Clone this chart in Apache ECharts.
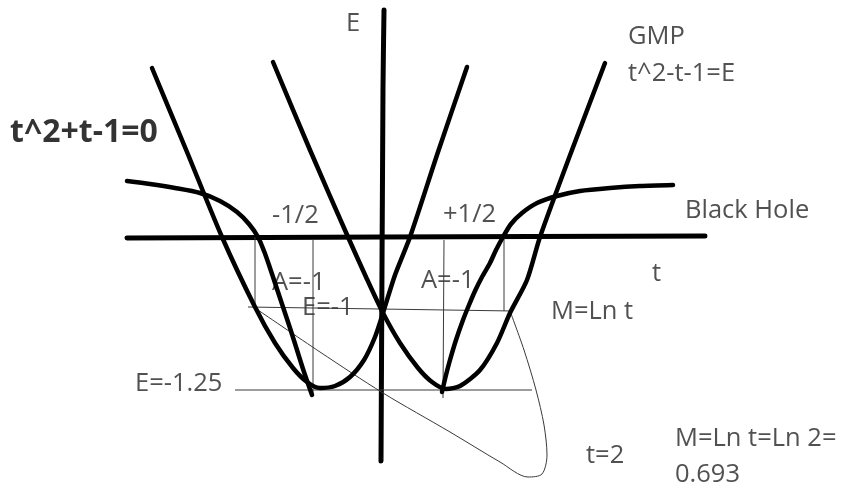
<!DOCTYPE html>
<html>
<head>
<meta charset="utf-8">
<script src="https://cdn.jsdelivr.net/npm/echarts@6/dist/echarts.min.js"></script>
<style>
  html, body { margin: 0; padding: 0; background: #fff; }
  #chart { width: 847px; height: 489px; }
</style>
</head>
<body>
<div id="chart"></div>
<script>
// sketch coordinates (x to the right, y downwards)
const axisH = [[127, 238], [383, 237], [705, 236]];
const axisV = [[384, 10], [383, 88], [381, 461]];

const leftParabola = [[152, 68], [187, 152], [222, 237], [255, 307], [275, 343], [293, 368], [307, 382], [320, 388],
  [335, 386], [350, 377], [364, 360], [375, 337], [383, 313], [395, 275], [410, 237], [438, 152], [467, 67]];
const rightParabola = [[273, 62], [310, 150], [348, 237], [366, 277], [383, 313], [400, 343], [418, 368], [432, 382],
  [446, 389], [460, 386], [480, 370], [497, 343], [510, 313], [527, 280], [540, 237], [572, 150], [605, 63]];

const leftHole = [[127, 181], [150, 184], [175, 188], [200, 193], [220, 201], [237, 212], [249, 224], [258, 237],
  [264, 251], [269, 265], [276, 286], [283, 307], [290, 328], [297, 350], [304, 372], [312, 395]];
const rightHole = [[673, 185], [640, 186], [610, 188], [580, 191], [557, 196], [537, 203], [522, 213], [511, 224],
  [503, 237], [496, 250], [490, 263], [482, 277], [475, 291], [469, 305], [463, 320], [456, 340], [450, 360],
  [446, 375], [442, 392]];

const guideLines = [
  [[255, 237], [255, 307]],
  [[313, 240], [313, 396]],
  [[444, 240], [443, 398]],
  [[504, 237], [504, 311]],
  [[248, 307], [513, 311]],
  [[235, 390], [532, 390]]
];

const lnLoop = [[258, 310], [320, 352], [383, 393], [450, 432], [500, 462], [528, 477], [542, 474], [547, 455],
  [544, 425], [536, 390], [524, 350], [510, 311]];

const labels = [
  [346, 24, 'E'],
  [628, 37, 'GMP'],
  [628, 74, 't^2-t-1=E'],
  [685, 211, 'Black Hole'],
  [272, 216, '-1/2'],
  [443, 215, '+1/2'],
  [652, 274, 't'],
  [551, 312, 'M=Ln t'],
  [272, 283, 'A=-1'],
  [302, 308, 'E=-1'],
  [421, 281, 'A=-1'],
  [135, 384, 'E=-1.25'],
  [586, 456, 't=2'],
  [675, 439, 'M=Ln t=Ln 2='],
  [675, 475, '0.693']
];
const boldLabels = [[10, 133, 't^2+t-1=0']];

const chart = echarts.init(document.getElementById('chart'), null, { renderer: 'canvas' });

function thick(data, width) {
  return {
    type: 'line',
    data,
    smooth: 0.25,
    showSymbol: false,
    silent: true,
    lineStyle: { color: '#000', width: width || 4.5, cap: 'round', join: 'round' }
  };
}

function thin(data, smooth) {
  return {
    type: 'line',
    data,
    smooth: smooth ? 0.3 : false,
    showSymbol: false,
    silent: true,
    lineStyle: { color: '#3a3a3a', width: 1 }
  };
}

function textSeries(data, style) {
  return {
    type: 'scatter',
    data,
    symbolSize: 0,
    silent: true,
    label: {
      show: true,
      position: 'inside',
      align: 'left',
      verticalAlign: 'middle',
      formatter: (p) => p.data[2],
      fontFamily: 'Open Sans',
      ...style
    }
  };
}

const series = [
  thick(axisH, 5),
  thick(axisV, 5),
  ...guideLines.map((seg) => thin(seg, false)),
  thin(lnLoop, true),
  thick(leftParabola),
  thick(rightParabola),
  thick(leftHole),
  thick(rightHole),
  textSeries(labels, { fontSize: 25.5, color: '#262626' }),
  textSeries(boldLabels, { fontSize: 32, fontWeight: 'bold', color: '#000' })
];

chart.setOption({
  animation: false,
  backgroundColor: '#fff',
  grid: { left: 0, right: 0, top: 0, bottom: 0 },
  xAxis: { type: 'value', min: 0, max: 847, show: false },
  yAxis: { type: 'value', min: 0, max: 489, inverse: true, show: false },
  series
});
</script>
</body>
</html>
